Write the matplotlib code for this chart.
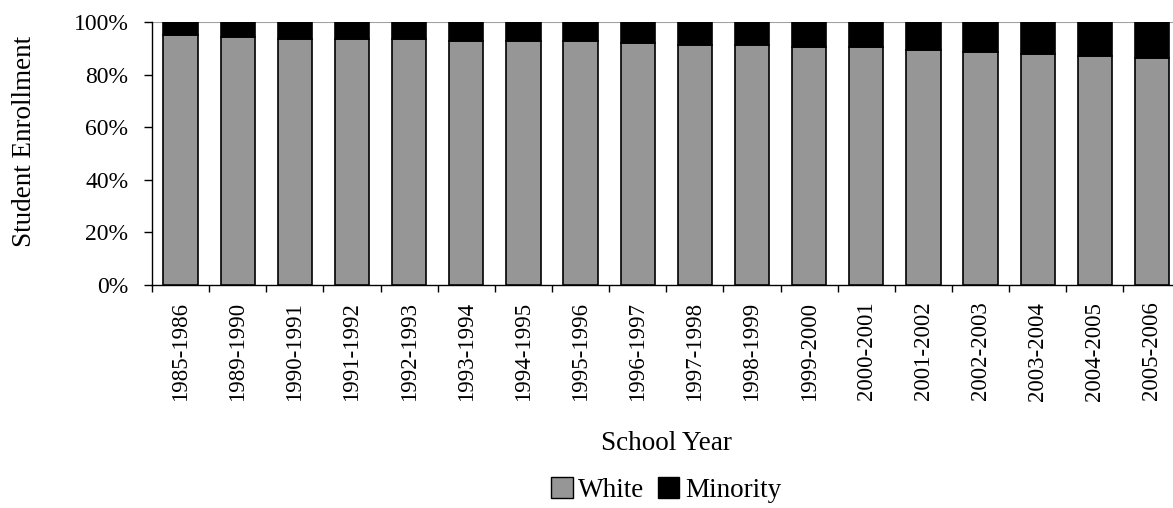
import matplotlib
matplotlib.use("Agg")
import matplotlib.pyplot as plt
from matplotlib.ticker import FuncFormatter, FixedLocator
from matplotlib.patches import Patch

years = ["1985-1986", "1989-1990", "1990-1991", "1991-1992", "1992-1993",
         "1993-1994", "1994-1995", "1995-1996", "1996-1997", "1997-1998",
         "1998-1999", "1999-2000", "2000-2001", "2001-2002", "2002-2003",
         "2003-2004", "2004-2005", "2005-2006"]
white = [95.0, 94.4, 93.4, 93.4, 93.4, 92.7, 92.7, 92.7, 91.9, 91.1,
         91.1, 90.4, 90.4, 89.5, 88.7, 88.0, 87.1, 86.2]
minority = [100 - w for w in white]

plt.rcParams['font.family'] = ['Liberation Serif', 'DejaVu Serif']

fig = plt.figure(figsize=(11.73, 5.08), dpi=100)
ax = fig.add_axes([152/1173, 223/508, 1028.5/1173, 263/508])

x = list(range(len(years)))
ax.bar(x, white, width=0.6, color="#969696", edgecolor="black", linewidth=1.2, zorder=3)
ax.bar(x, minority, bottom=white, width=0.6, color="black", edgecolor="black", linewidth=1.2, zorder=3)

ax.axhline(100, color="#a0a0a0", linewidth=1.5, zorder=1)

ax.set_xlim(-0.5, len(years) - 0.5)
ax.set_ylim(0, 100)
ax.set_yticks([0, 20, 40, 60, 80, 100])
ax.yaxis.set_major_formatter(FuncFormatter(lambda v, p: f"{int(v)}%"))

ax.xaxis.set_major_locator(FixedLocator([i - 0.5 for i in range(len(years) + 1)]))
ax.xaxis.set_major_formatter(FuncFormatter(lambda v, p: ""))
ax.xaxis.set_minor_locator(FixedLocator(x))
ax.set_xticklabels(years, minor=True, rotation=90, fontsize=16.5)
ax.tick_params(axis='x', which='minor', length=0, pad=12)
ax.tick_params(axis='x', which='major', length=5, width=1, direction='out')
ax.tick_params(axis='y', length=6, width=1, direction='out', labelsize=17, pad=11)

for s in ['top', 'right']:
    ax.spines[s].set_visible(False)
ax.spines['left'].set_linewidth(1)
ax.spines['bottom'].set_linewidth(1)

fig.text(25/1173, 1 - 141/508, "Student Enrollment", rotation=90, ha="center", va="center", fontsize=19.5)
fig.text(666/1173, 1 - 443/508, "School Year", ha="center", va="center", fontsize=19.5)

handles = [Patch(facecolor="#969696", edgecolor="black", label="White"),
           Patch(facecolor="black", edgecolor="black", label="Minority")]
fig.legend(handles=handles, loc="center", bbox_to_anchor=(666/1173, 1 - 490/508),
           ncol=2, frameon=False, fontsize=19.5, handlelength=0.8, handleheight=0.8,
           handletextpad=0.2, columnspacing=0.5, borderaxespad=0, borderpad=0)

fig.savefig("out.png", dpi=100)
